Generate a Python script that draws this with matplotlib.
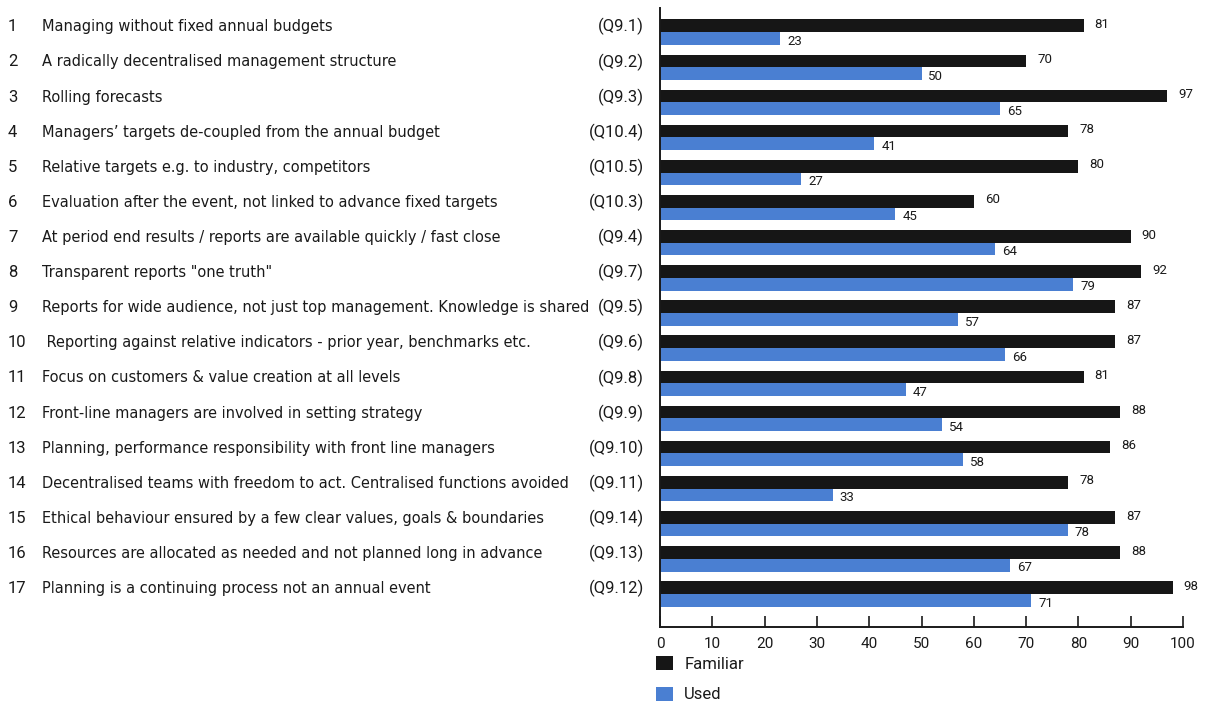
import matplotlib
matplotlib.use("Agg")
import matplotlib.pyplot as plt
import matplotlib.transforms as mtransforms
from matplotlib import font_manager as fm
from matplotlib.patches import Patch

plt.rcParams['font.family'] = ['Roboto', 'DejaVu Sans']

numbers = [str(i) for i in range(1, 18)]
categories = [
    "Managing without fixed annual budgets",
    "A radically decentralised management structure",
    "Rolling forecasts",
    "Managers\u2019 targets de-coupled from the annual budget",
    "Relative targets e.g. to industry, competitors",
    "Evaluation after the event, not linked to advance fixed targets",
    "At period end results / reports are available quickly / fast close",
    "Transparent reports \"one truth\"",
    "Reports for wide audience, not just top management. Knowledge is shared",
    " Reporting against relative indicators - prior year, benchmarks etc.",
    "Focus on customers & value creation at all levels",
    "Front-line managers are involved in setting strategy",
    "Planning, performance responsibility with front line managers",
    "Decentralised teams with freedom to act. Centralised functions avoided",
    "Ethical behaviour ensured by a few clear values, goals & boundaries",
    "Resources are allocated as needed and not planned long in advance",
    "Planning is a continuing process not an annual event",
]
codes = ["(Q9.1)", "(Q9.2)", "(Q9.3)", "(Q10.4)", "(Q10.5)", "(Q10.3)", "(Q9.4)",
         "(Q9.7)", "(Q9.5)", "(Q9.6)", "(Q9.8)", "(Q9.9)", "(Q9.10)", "(Q9.11)",
         "(Q9.14)", "(Q9.13)", "(Q9.12)"]
familiar = [81, 70, 97, 78, 80, 60, 90, 92, 87, 87, 81, 88, 86, 78, 87, 88, 98]
used = [23, 50, 65, 41, 27, 45, 64, 79, 57, 66, 47, 54, 58, 33, 78, 67, 71]
x_ticks = [0, 10, 20, 30, 40, 50, 60, 70, 80, 90, 100]

BLACK = "#161616"
BLUE = "#4a7fd2"
TXT = "#1a1a1a"

# prefer a condensed sans face if one is installed (reference uses a condensed font)
cond_prop = None
for f in fm.fontManager.ttflist:
    name = f.fname.lower()
    if ("condensed" in name or "narrow" in name) and "bold" not in name \
            and "oblique" not in name and "italic" not in name and "light" not in name:
        cond_prop = fm.FontProperties(fname=f.fname)
        break

W, H = 1209, 712
fig = plt.figure(figsize=(W / 100, H / 100), dpi=100)
ax = fig.add_axes([660 / W, 1 - 627 / H, (1183 - 660) / W, (627 - 8) / H])

rows = list(range(len(categories)))
h = 0.36
ax.barh([r - h / 2 for r in rows], familiar, height=h, color=BLACK, label="Familiar")
ax.barh([r + h / 2 for r in rows], used, height=h, color=BLUE, label="Used")

for r, f, u in zip(rows, familiar, used):
    ax.annotate(str(f), (f, r - h / 2), xytext=(8, 1), textcoords="offset points",
                va="center", ha="left", fontsize=9.5, color=TXT)
    ax.annotate(str(u), (u, r + h / 2), xytext=(5, -2), textcoords="offset points",
                va="center", ha="left", fontsize=9.5, color=TXT)

ax.set_xlim(0, 100)
ax.set_ylim(16.94, -0.684)
ax.set_xticks(x_ticks)
ax.set_xticklabels([str(t) for t in x_ticks], fontsize=11, color=TXT)
ax.set_yticks([])
ax.tick_params(axis="x", direction="in", length=8, width=1.2, pad=7, color=TXT)
for s in ["top", "right"]:
    ax.spines[s].set_visible(False)
for s in ["left", "bottom"]:
    ax.spines[s].set_linewidth(1.4)
    ax.spines[s].set_color(TXT)

trans = mtransforms.blended_transform_factory(fig.transFigure, ax.transData)
cat_texts = []
for r, n, c, q in zip(rows, numbers, categories, codes):
    y = r - 0.15
    ax.text(8 / W, y, n, transform=trans, ha="left", va="center", fontsize=12,
            color=TXT, clip_on=False)
    kw = dict(transform=trans, ha="left", va="center", color=TXT, clip_on=False)
    if cond_prop is not None:
        t = ax.text(42 / W, y, c, fontproperties=cond_prop, **kw)
        t.set_fontsize(13)
    else:
        t = ax.text(42 / W, y, c, fontsize=13, **kw)
    cat_texts.append(t)
    ax.text(644 / W, y, q, transform=trans, ha="right", va="center",
            fontsize=12, color=TXT, clip_on=False)

# shrink category labels uniformly so the longest fits before the question codes
renderer = fig.canvas.get_renderer()
max_w = max(t.get_window_extent(renderer).width for t in cat_texts)
avail = 590 - 42
if max_w > avail:
    fs = 13 * avail / max_w
    for t in cat_texts:
        t.set_fontsize(fs)

handles = [Patch(facecolor=BLACK, edgecolor="none"), Patch(facecolor=BLUE, edgecolor="none")]
fig.legend(handles, ["Familiar", "Used"], loc="upper left",
           bbox_to_anchor=(656 / W, 1 - 656 / H), frameon=False, fontsize=12,
           borderpad=0, borderaxespad=0, handlelength=1.0, handleheight=0.9,
           handletextpad=0.7, labelspacing=0.9, labelcolor=TXT)

fig.savefig("out.png", dpi=100, facecolor="white")
